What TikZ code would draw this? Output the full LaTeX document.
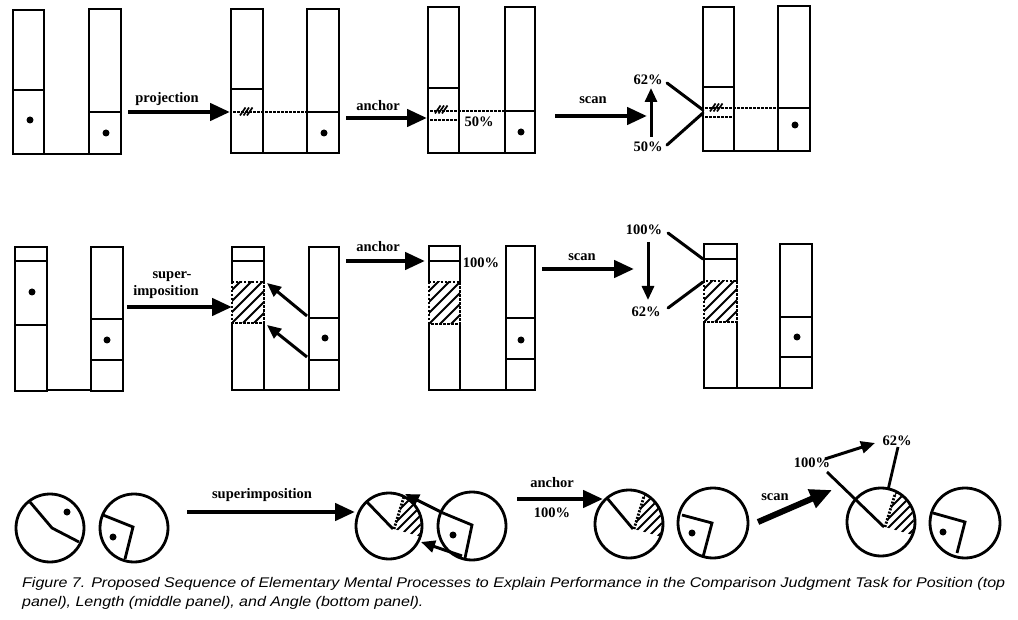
\documentclass[tikz,border=0pt]{standalone}
\usepackage{fontspec}
\setmainfont{Liberation Serif}
\newfontfamily\capfont{Liberation Sans}
\usetikzlibrary{arrows.meta}
\newlength\capw
\newcommand{\capone}{Figure 7. Proposed Sequence of Elementary Mental Processes to Explain Performance in the Comparison Judgment Task for Position (top}
\newcommand{\captwo}{panel), Length (middle panel), and Angle (bottom panel).}
\newcommand{\capstyle}{\capfont\itshape\fontsize{14}{16}\selectfont}
\tikzset{
  bar/.style={line width=2.6pt},
  divline/.style={line width=2.2pt},
  projline/.style={line width=2.2pt, dash pattern=on 2.5pt off 1.5pt},
  bigarrow/.style={line width=4.5pt, -{Triangle[length=20pt,width=17pt]}},
  midarrow/.style={line width=3pt, -{Triangle[length=14pt,width=12pt]}},
  lbl/.style={font=\fontsize{14.5}{16}\selectfont\bfseries, inner sep=0pt},
  pointer/.style={line width=3pt, line cap=round},
  hatchline/.style={line width=1.9pt},
  dashbox/.style={line width=2pt, dash pattern=on 2.5pt off 1.5pt},
  dashedge/.style={line width=2.8pt, dash pattern=on 2pt off 1.5pt},
  disc/.style={line width=2.8pt},
  capline/.style={anchor=base west, inner sep=0pt},
}
\newcommand{\hatchticks}[2]{%
  \foreach \q in {0,3.5,7}{\draw[line width=1.7pt] (#1+\q-3,#2+3.5) -- (#1+\q+2.5,#2-4.5);}}
\newcommand{\hatchrect}[4]{%
  \fill[white] (#1-2.5,#2) rectangle (#3+2.5,#4);
  \begin{scope}
    \clip (#1,#2) rectangle (#3,#4);
    \foreach \k in {-44,-33,...,44}{\draw[hatchline] (#1+\k,#4) -- ++(60,-60);}
  \end{scope}
  \draw[dashbox] (#1,#2) rectangle (#3,#4);}
\newcommand{\hatchsector}[5]{% apex x, apex y, centre x, centre y, radius
  \begin{scope}
    \clip (#3,#4) circle (#5-1.2);
    \clip (#1,#2) -- +(-73:60) -- +(-28:60) -- +(16:60) -- cycle;
    \foreach \k in {-110,-101,...,40}{\draw[hatchline] (#1+\k,#2+60) -- ++(110,-110);}
  \end{scope}
  \draw[dashedge] (#1,#2) -- +(-73:#5+1);}
\begin{document}
\settowidth\capw{\capstyle\capone}%
\pgfmathsetmacro\capsx{983/\capw}%
\begin{tikzpicture}[x=1pt,y=-1pt]
\useasboundingbox (0,0) rectangle (1018,620);
\fill[white] (0,0) rectangle (1018,620);

% ================= TOP PANEL =================
% figure 1
\draw[bar] (13,10) rectangle (44,154);
\draw[bar] (89,9) rectangle (121,154);
\draw[bar] (44,154) -- (89,154);
\draw[divline] (13,90) -- (44,90);
\draw[divline] (89,112) -- (121,112);
\fill (30,120) circle (3.5);
\fill (106,133) circle (3.5);
% figure 2
\draw[bar] (231,9) rectangle (263,153);
\draw[bar] (307,9) rectangle (339,153);
\draw[bar] (263,153) -- (307,153);
\draw[divline] (231,89) -- (263,89);
\draw[divline] (307,112) -- (339,112);
\fill (324,133) circle (3.5);
\draw[projline] (233,112) -- (307,112);
\hatchticks{243}{112}
% figure 3
\draw[bar] (428,7) rectangle (459,153);
\draw[bar] (505,7) rectangle (535,153);
\draw[bar] (459,153) -- (505,153);
\draw[divline] (428,88) -- (459,88);
\draw[divline] (505,111) -- (535,111);
\fill (521,132) circle (3.5);
\draw[projline] (430,111) -- (505,111);
\draw[projline] (430,120) -- (459,120);
\hatchticks{438}{110}
\node[lbl] (t50a) at (479,122) {50\%};
% figure 4
\draw[bar] (703,7) rectangle (734,151);
\draw[bar] (778,6) rectangle (810,151);
\draw[bar] (734,151) -- (778,151);
\draw[divline] (703,87) -- (734,87);
\draw[divline] (778,108) -- (810,108);
\fill (795,125) circle (3.5);
\draw[projline] (705,108) -- (778,108);
\draw[projline] (705,117) -- (734,117);
\hatchticks{713}{108}
\coordinate (tp1s) at (667,83);  \coordinate (tp1e) at (703,110);
\coordinate (tp2s) at (667,145); \coordinate (tp2e) at (703,113);
\draw[pointer] (tp1s) -- (tp1e);
\draw[pointer] (tp2s) -- (tp2e);
% arrows and labels
\coordinate (ta1s) at (128,112); \coordinate (ta1e) at (230,112);
\draw[bigarrow] (ta1s) -- (ta1e);
\node[lbl] (tproj) at (167,99) {projection};
\coordinate (ta2s) at (346,118); \coordinate (ta2e) at (427,118);
\draw[bigarrow] (ta2s) -- (ta2e);
\node[lbl] (tanch) at (378,106) {anchor};
\coordinate (ta3s) at (555,116); \coordinate (ta3e) at (647,116);
\draw[bigarrow] (ta3s) -- (ta3e);
\node[lbl] (tscan) at (593,100) {scan};
\node[lbl] (t62) at (648,80) {62\%};
\node[lbl] (t50b) at (648,147) {50\%};
\coordinate (tvs) at (651,137); \coordinate (tve) at (651,88);
\draw[midarrow] (tvs) -- (tve);

% ================= MIDDLE PANEL =================
% figure 1
\draw[bar] (15,247) rectangle (47,391);
\draw[bar] (91,247) rectangle (123,391);
\draw[bar] (47,390) -- (91,390);
\draw[divline] (15,261) -- (47,261);
\draw[divline] (15,325) -- (47,325);
\draw[divline] (91,319) -- (123,319);
\draw[divline] (91,360) -- (123,360);
\fill (32,292) circle (3.5);
\fill (107,340) circle (3.5);
% figure 2
\draw[bar] (232,247) rectangle (264,390);
\draw[bar] (309,247) rectangle (339,390);
\draw[bar] (264,390) -- (309,390);
\draw[divline] (232,261) -- (264,261);
\hatchrect{232}{282}{264}{323}
\draw[divline] (309,318) -- (339,318);
\draw[divline] (309,360) -- (339,360);
\fill (325,338) circle (3.5);
\coordinate (ma1s) at (307,316); \coordinate (ma1e) at (267,283);
\coordinate (ma2s) at (307,357); \coordinate (ma2e) at (267,325);
\draw[midarrow] (ma1s) -- (ma1e);
\draw[midarrow] (ma2s) -- (ma2e);
% figure 3
\draw[bar] (429,246) rectangle (460,390);
\draw[bar] (506,246) rectangle (535,390);
\draw[bar] (460,390) -- (506,390);
\draw[divline] (429,261) -- (460,261);
\hatchrect{429}{282}{460}{324}
\draw[divline] (506,318) -- (535,318);
\draw[divline] (506,359) -- (535,359);
\fill (521,340) circle (3.5);
\node[lbl] (m100a) at (481,263) {100\%};
% figure 4
\draw[bar] (704,244) rectangle (737,388);
\draw[bar] (780,244) rectangle (812,388);
\draw[bar] (737,388) -- (780,388);
\draw[divline] (704,259) -- (737,259);
\hatchrect{704}{281}{737}{322}
\draw[divline] (780,317) -- (812,317);
\draw[divline] (780,357) -- (812,357);
\fill (797,337) circle (3.5);
\coordinate (mp1s) at (668,233); \coordinate (mp1e) at (703,259);
\coordinate (mp2s) at (668,308); \coordinate (mp2e) at (703,282);
\draw[pointer] (mp1s) -- (mp1e);
\draw[pointer] (mp2s) -- (mp2e);
% arrows and labels
\coordinate (mb1s) at (127,307); \coordinate (mb1e) at (232,307);
\draw[bigarrow] (mb1s) -- (mb1e);
\node[lbl] (msup) at (172,277) {super-};
\node[lbl] (mimp) at (166,292) {imposition};
\coordinate (mb2s) at (346,261); \coordinate (mb2e) at (425,261);
\draw[bigarrow] (mb2s) -- (mb2e);
\node[lbl] (manch) at (378,247) {anchor};
\coordinate (mb3s) at (542,269); \coordinate (mb3e) at (634,269);
\draw[bigarrow] (mb3s) -- (mb3e);
\node[lbl] (mscan) at (582,257) {scan};
\node[lbl] (m100b) at (644,230) {100\%};
\node[lbl] (m62) at (646,312) {62\%};
\coordinate (mvs) at (648,242); \coordinate (mve) at (648,300);
\draw[midarrow] (mvs) -- (mve);

% ================= BOTTOM PANEL =================
% circle 1
\draw[disc] (50,528) circle (34);
\draw[disc] (30,502) -- (52,528) -- (79,542);
\fill (67,512) circle (3.5);
% circle 2
\draw[disc] (134,528) circle (34);
\draw[disc] (103,515) -- (133,527) -- (125,559);
\fill (113,537) circle (3.5);
% superimposition arrow
\coordinate (bb1s) at (187,512); \coordinate (bb1e) at (355,512);
\draw[bigarrow] (bb1s) -- (bb1e);
\node[lbl] (bsup) at (262,495) {superimposition};
% circle 3
\draw[disc] (389,526) circle (33);
\hatchsector{394}{529}{389}{526}{33}
\draw[disc] (367,502) -- (393,529);
% circle 4
\draw[disc] (472,526) circle (34);
\draw[disc] (443,513) -- (472,525) -- (465,558);
\fill (453,535) circle (3.5);
\coordinate (bc1s) at (443,513); \coordinate (bc1e) at (405,494);
\coordinate (bc2s) at (462,556); \coordinate (bc2e) at (421,542);
\draw[midarrow] (bc1s) -- (bc1e);
\draw[midarrow] (bc2s) -- (bc2e);
% anchor arrow
\coordinate (bb2s) at (517,499); \coordinate (bb2e) at (603,499);
\draw[bigarrow] (bb2s) -- (bb2e);
\node[lbl] (banch) at (552,483) {anchor};
\node[lbl] (b100a) at (552,513) {100\%};
% circle 5
\draw[disc] (629,524) circle (34);
\hatchsector{634}{529}{629}{524}{34}
\draw[disc] (607,498) -- (633,529);
% circle 6
\draw[disc] (713,523) circle (35);
\draw[disc] (682,515) -- (712,523) -- (703,557);
\fill (692,533) circle (3.5);
% scan arrow
\coordinate (bb3s) at (758,522); \coordinate (bb3e) at (832,490);
\draw[line width=6pt, -{Triangle[length=22pt,width=19pt]}] (bb3s) -- (bb3e);
\node[lbl] (bscan) at (775,497) {scan};
% circle 7
\draw[disc] (881,522) circle (34);
\hatchsector{885}{527}{881}{522}{34}
\coordinate (bp1s) at (827,472); \coordinate (bp1e) at (884,527);
\draw[disc] (bp1s) -- (bp1e);
\coordinate (bp2s) at (898,447); \coordinate (bp2e) at (888,490);
\draw[disc] (bp2s) -- (bp2e);
\node[lbl] (b100b) at (812,463) {100\%};
\node[lbl] (b62) at (897,441) {62\%};
\coordinate (bd1s) at (825,459); \coordinate (bd1e) at (875,443);
\draw[midarrow] (bd1s) -- (bd1e);
% circle 8
\draw[disc] (965,523) circle (35);
\draw[disc] (933,513) -- (965,522) -- (957,553);
\fill (943,532) circle (3.5);

% ================= CAPTION =================
\node[capline] (cap1) at (22,587) {\scalebox{\capsx}[1]{\capstyle\capone}};
\node[capline] (cap2) at (22,606) {\scalebox{\capsx}[1]{\capstyle\captwo}};
\end{tikzpicture}
\end{document}
